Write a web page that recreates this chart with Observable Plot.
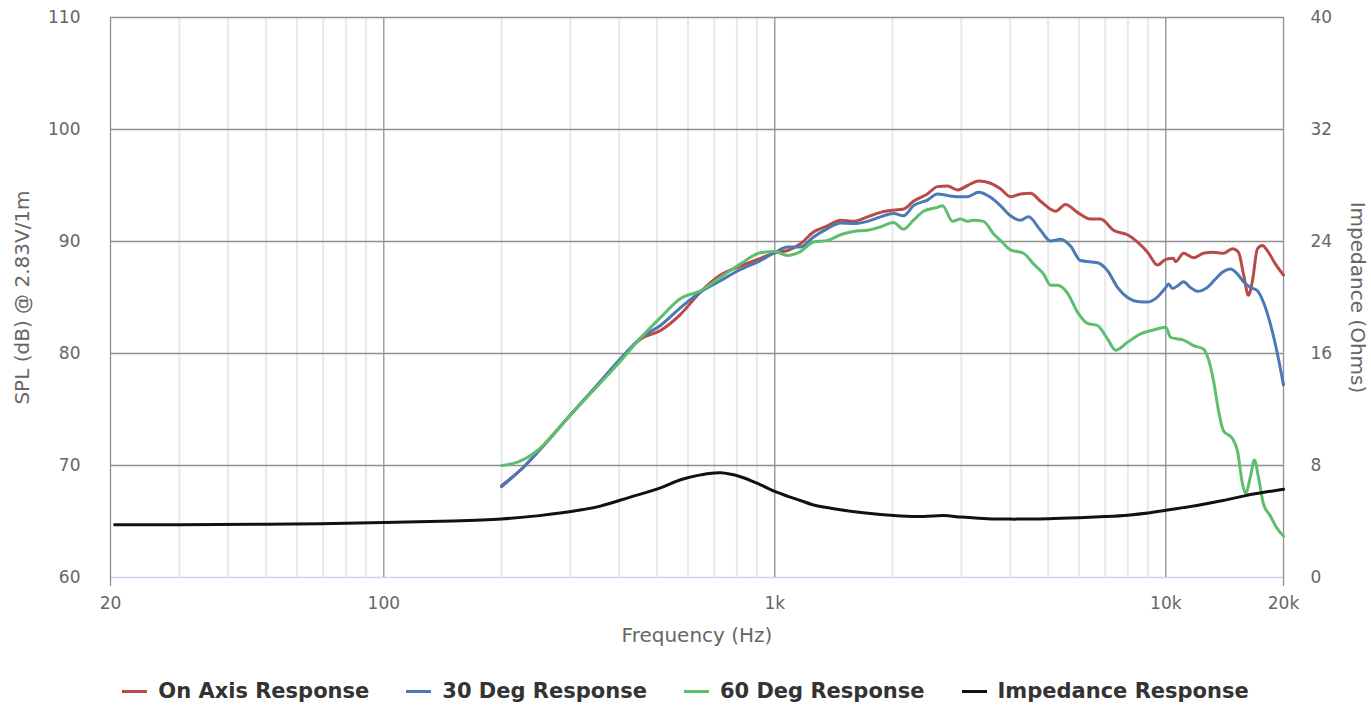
<!DOCTYPE html>
<html><head><meta charset="utf-8">
<script src="https://cdn.jsdelivr.net/npm/d3@7"></script>
<script src="https://cdn.jsdelivr.net/npm/@observablehq/plot@0.6"></script>
<style>
body{margin:0;background:#fff;font-family:"DejaVu Sans",sans-serif;}
#wrap{position:relative;width:1371px;height:709px;overflow:hidden;}
#legend{position:absolute;left:0;top:679px;width:1371px;height:24px;display:flex;justify-content:center;align-items:center;gap:37px;font-weight:bold;font-size:21px;color:#333;}
#legend .item{display:flex;align-items:center;}
#legend .sw{display:inline-block;width:25px;height:3px;margin-right:11px;}
</style></head><body>
<div id="wrap"><div id="chart"></div><div id="legend"></div></div>
<script>
// ---- data ----
const seriesNames = ["On Axis Response", "30 Deg Response", "60 Deg Response", "Impedance Response"];
const seriesColors = ["#b94a48", "#4a79b6", "#5dbf6e", "#111111"];

const freqOnAxis = [200,230,252,300,350,400,454,510,574,646,726,817,919,1000,1078,1163,1256,1364,1473,1589,1726,1864,2012,2134,2263,2457,2607,2766,2934,3111,3319,3562,3777,4006,4250,4508,4782,5226,5539,5944,6418,6808,7349,7981,8466,8981,9525,10000,10460,10590,11100,11770,12480,13240,14040,14810,15340,15800,16270,16660,17150,17660,18290,19060,20000];
const splOnAxis = [68.2,70.0,71.5,74.5,77.1,79.4,81.3,82.05,83.5,85.5,87.0,87.8,88.5,89.0,89.2,89.8,90.85,91.4,91.9,91.8,92.2,92.6,92.8,92.9,93.6,94.25,94.9,94.95,94.6,95.0,95.4,95.2,94.7,94.0,94.25,94.3,93.6,92.7,93.3,92.6,92.0,92.0,91.0,90.6,89.95,89.05,87.9,88.4,88.5,88.2,88.95,88.55,88.95,89.05,88.95,89.35,89.05,87.1,85.2,86.5,89.35,89.65,89.05,88.0,87.0];

const freq30 = [200,230,252,300,350,400,454,510,574,646,726,817,919,1000,1078,1163,1256,1364,1473,1589,1726,1864,2012,2134,2263,2457,2607,2766,2934,3111,3319,3562,3777,4006,4250,4455,4782,5073,5378,5704,6050,6688,7095,7524,7981,8466,8981,9414,10000,10160,10400,10780,11100,11560,12050,12780,13400,13960,14640,15250,15800,16460,17150,17760,18510,19290,20000];
const spl30 = [68.1,70.0,71.5,74.5,77.1,79.4,81.4,82.5,84.1,85.5,86.5,87.5,88.3,89.0,89.5,89.5,90.4,91.15,91.65,91.6,91.8,92.2,92.5,92.3,93.2,93.7,94.25,94.1,94.0,94.0,94.4,93.95,93.2,92.3,91.9,92.2,91.0,90.05,90.2,89.6,88.3,88.1,87.4,85.9,85.0,84.65,84.6,84.9,85.9,86.2,85.8,86.1,86.4,85.9,85.55,85.9,86.65,87.25,87.55,87.1,86.4,85.9,85.6,84.6,82.65,80.0,77.2];

const freq60 = [200,220,240,252,300,350,400,454,510,574,646,726,817,919,1000,1078,1163,1256,1364,1473,1589,1726,1864,2012,2134,2263,2400,2607,2685,2849,2986,3111,3223,3418,3625,3777,4006,4325,4588,4868,5073,5284,5605,5944,6305,6688,7095,7436,7981,8617,9304,10000,10280,10710,11100,11770,12480,12850,13240,13640,14040,14810,15250,15700,15990,16460,16850,17250,17760,18510,19290,20000];
const spl60 = [70.0,70.3,71.0,71.6,74.5,77.0,79.2,81.4,83.2,84.9,85.6,86.8,88.0,89.0,89.1,88.75,89.1,89.95,90.1,90.6,90.9,91.0,91.3,91.7,91.1,91.9,92.7,93.05,93.2,91.8,92.0,91.8,91.9,91.8,90.7,90.1,89.25,88.95,88.0,87.1,86.1,86.1,85.4,83.7,82.7,82.5,81.3,80.3,81.0,81.75,82.1,82.35,81.45,81.3,81.2,80.7,80.4,79.5,77.6,74.9,73.1,72.4,71.3,68.4,67.5,69.0,70.5,69.0,66.6,65.5,64.35,63.7];

const freqImp = [20.5,30,50,100,150,200,250,315,358,427,510,574,646,726,817,919,1000,1080,1163,1250,1390,1660,2100,2400,2700,3000,3500,4000,5000,6000,7000,8000,9000,10000,12000,14000,16000,18000,20000];
const ohmImp = [3.76,3.77,3.8,3.92,4.03,4.18,4.42,4.8,5.1,5.74,6.4,6.98,7.33,7.48,7.2,6.62,6.15,5.8,5.5,5.2,4.95,4.64,4.4,4.35,4.42,4.32,4.2,4.17,4.2,4.27,4.35,4.45,4.6,4.8,5.15,5.5,5.85,6.1,6.3];

const xTicks = [20, 100, 1000, 10000, 20000];
const xMinor = [30,40,50,60,70,80,90,200,300,400,500,600,700,800,900,2000,3000,4000,5000,6000,7000,8000,9000];
const xMajor = [100, 1000, 10000];
const splTicks = [60, 70, 80, 90, 100, 110];
const ohmTicks = [0, 8, 16, 24, 32, 40];
const xTitle = "Frequency (Hz)";
const yTitle = "SPL (dB) @ 2.83V/1m";
const y2Title = "Impedance (Ohms)";

// ---- build ----
const ohmToSpl = o => 60 + o * (50 / 40);
const splToOhm = s => Math.round((s - 60) * (40 / 50));
const mk = (fs, vs) => fs.map((f, i) => ({f, v: vs[i]}));
const dOn = mk(freqOnAxis, splOnAxis);
const d30 = mk(freq30, spl30);
const d60 = mk(freq60, spl60);
const dImp = mk(freqImp, ohmImp);
const grey = "#8f8f8f";

const chart = Plot.plot({
  width: 1371, height: 655,
  marginLeft: 110, marginRight: 88, marginTop: 17, marginBottom: 78,
  x: {type: "log", domain: [20, 20000], label: null},
  y: {domain: [60, 110], label: null},
  style: {fontFamily: "DejaVu Sans, sans-serif", fontSize: "16px", color: "#666", background: "#fff"},
  marks: [
    Plot.ruleX(xMinor, {stroke: "#e9e9e9", strokeWidth: 2}),
    Plot.ruleY([60], {stroke: "#cbd7ee", strokeWidth: 1.5}),
    Plot.ruleY(splTicks.filter(d => d > 60), {stroke: grey, strokeWidth: 1.3}),
    Plot.ruleX(xMajor, {stroke: grey, strokeWidth: 1.3}),
    Plot.ruleX([20, 20000], {stroke: grey, strokeWidth: 1.3, insetBottom: -9}),
    Plot.line(dOn, {x: "f", y: "v", stroke: seriesColors[0], strokeWidth: 3, curve: "monotone-x"}),
    Plot.line(d30, {x: "f", y: "v", stroke: seriesColors[1], strokeWidth: 3, curve: "monotone-x"}),
    Plot.line(d60, {x: "f", y: "v", stroke: seriesColors[2], strokeWidth: 3, curve: "monotone-x"}),
    Plot.line(dImp, {x: "f", y: d => ohmToSpl(d.v), stroke: seriesColors[3], strokeWidth: 3, curve: "catmull-rom"}),
    Plot.axisX(xTicks, {tickSize: 0, tickPadding: 19, fontSize: 17, label: null,
      tickFormat: d => d >= 1000 ? (d / 1000) + "k" : String(d)}),
    Plot.axisY(splTicks, {anchor: "left", tickSize: 0, tickPadding: 30, fontSize: 17, label: null}),
    Plot.axisY(ohmTicks.map(ohmToSpl), {anchor: "right", tickSize: 0, tickPadding: 27, fontSize: 17, label: null,
      tickFormat: d => String(splToOhm(d))}),
    Plot.text([xTitle], {text: d => d, frameAnchor: "bottom", lineAnchor: "middle", dy: 58, fontSize: 20, fill: "#666"}),
    Plot.text([yTitle], {text: d => d, frameAnchor: "left", textAnchor: "middle", dx: -88, rotate: -90, fontSize: 20, fill: "#666"}),
    Plot.text([y2Title], {text: d => d, frameAnchor: "right", textAnchor: "middle", dx: 74, rotate: 90, fontSize: 20, fill: "#666"})
  ]
});
document.getElementById("chart").appendChild(chart);

const legend = document.getElementById("legend");
seriesNames.forEach((n, i) => {
  const it = document.createElement("div");
  it.className = "item";
  const sw = document.createElement("span");
  sw.className = "sw";
  sw.style.background = seriesColors[i];
  const t = document.createElement("span");
  t.textContent = n;
  it.appendChild(sw); it.appendChild(t);
  legend.appendChild(it);
});
</script>
</body></html>
